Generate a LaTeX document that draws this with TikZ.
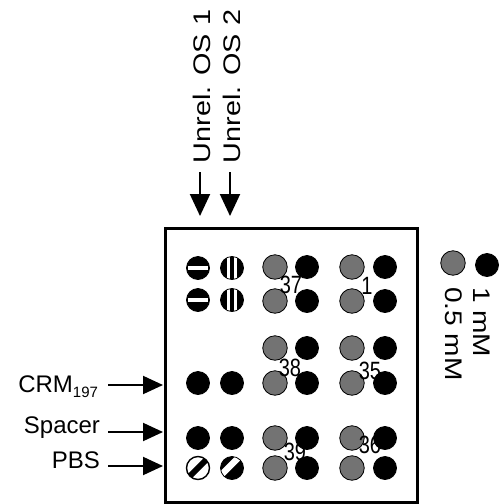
\documentclass[tikz,border=0pt]{standalone}
\usepackage{fontspec}
\setmainfont{Liberation Sans}
\usepackage{graphicx}
\usetikzlibrary{arrows.meta}
\begin{document}
\begin{tikzpicture}[x=1pt,y=-1pt,
  every node/.style={inner sep=0pt, outer sep=0pt},
  lbl/.style={font=\fontsize{24}{28}\selectfont},
  num/.style={font=\fontsize{20}{22}\selectfont},
  arrh/.style={line width=2pt, -{Triangle[length=20pt,width=18pt]}},
  arrv/.style={line width=2pt, -{Triangle[length=22pt,width=20pt]}},
  dotbase/.style={circle, minimum size=23pt, draw=black, line width=0.8pt},
  blk/.style={dotbase, fill=black},
  hat/.style={dotbase, minimum size=24.5pt, fill=black!55},
  hb/.style={dotbase, fill=black, path picture={
      \begin{scope}[shift={(path picture bounding box.center)}]
        \fill[white] (-10pt,-1.8pt) rectangle (10pt,1.8pt);
      \end{scope}}},
  vb/.style={dotbase, fill=black, path picture={
      \begin{scope}[shift={(path picture bounding box.center)}]
        \fill[white] (-5pt,-12pt) rectangle (-1.8pt,12pt);
        \fill[white] (1.8pt,-12pt) rectangle (5pt,12pt);
      \end{scope}}},
  slw/.style={dotbase, fill=white, line width=1.4pt, path picture={
      \begin{scope}[shift={(path picture bounding box.center)}]
        \fill[black] (7.78pt,12.02pt) -- (12.02pt,7.78pt) -- (-7.78pt,-12.02pt) -- (-12.02pt,-7.78pt) -- cycle;
      \end{scope}}},
  slb/.style={dotbase, fill=black, path picture={
      \begin{scope}[shift={(path picture bounding box.center)}]
        \fill[white] (5.66pt,14.14pt) -- (10.25pt,9.55pt) -- (-9.55pt,-10.25pt) -- (-14.14pt,-5.66pt) -- cycle;
      \end{scope}}},
]
\useasboundingbox (0,0) rectangle (500,504);

% frame
\draw[line width=3pt] (165,228) rectangle (417,502);

% top labels and arrows
\node[lbl, rotate=90, anchor=base west] (u1) at (210,163) {\scalebox{1.2}[1]{Unrel. OS 1}};
\node[lbl, rotate=90, anchor=base west] (u2) at (240,163) {\scalebox{1.2}[1]{Unrel. OS 2}};
\coordinate (s1) at (200,172);
\coordinate (t1) at (200,216);
\coordinate (s2) at (230,172);
\coordinate (t2) at (230,216);
\draw[arrv] (s1) -- (t1);
\draw[arrv] (s2) -- (t2);

% left labels and arrows
\node[lbl, anchor=base east] (crm) at (98,392) {CRM\raisebox{-5pt}{\fontsize{15}{15}\selectfont 197}};
\node[lbl, anchor=base east] (spc) at (100,433) {Spacer};
\node[lbl, anchor=base east] (pbs) at (100,468) {PBS};
\coordinate (tc) at (163,385);
\coordinate (ts) at (163,432);
\coordinate (tp) at (163,466);
\draw[arrh] ([xshift=10pt]crm.east |- tc) -- (tc);
\draw[arrh] ([xshift=8pt]spc.east |- ts) -- (ts);
\draw[arrh] ([xshift=8pt]pbs.east |- tp) -- (tp);

% column 1 and 2
\node[hb] (a1) at (198,268) {};
\node[hb] (a2) at (198,300) {};
\node[vb] (b1) at (232,268) {};
\node[vb] (b2) at (232,300) {};
\node[blk] (a4) at (198,383) {};
\node[blk] (b4) at (232,383) {};
\node[blk] (a5) at (198,438) {};
\node[blk] (b5) at (232,438) {};
\node[slw] (a6) at (198,468) {};
\node[slb] (b6) at (232,468) {};

% column 3 and 4
\foreach \r [count=\i] in {267,301,348,383,438,468} {
  \node[hat] (c\i) at (275,\r) {};
  \node[blk] (d\i) at (307,\r) {};
  \node[hat] (e\i) at (352,\r) {};
  \node[blk] (f\i) at (385,\r) {};
}

% numbers
\node[num] (n37) at (291,285) {\scalebox{1}[1.25]{37}};
\node[num] (n1) at (367,286) {\scalebox{1}[1.25]{1}};
\node[num] (n38) at (290,368) {\scalebox{1}[1.25]{38}};
\node[num] (n35) at (370,371) {\scalebox{1}[1.25]{35}};
\node[num] (n39) at (295,452) {\scalebox{1}[1.25]{39}};
\node[num] (n36) at (370,445) {\scalebox{1}[1.25]{36}};

% legend
\node[hat] (lh) at (453,263) {};
\node[blk] (lb) at (487,265) {};
\node[lbl, rotate=-90, anchor=base west] (l05) at (445,287) {\scalebox{1.17}[1]{0.5 mM}};
\node[lbl, rotate=-90, anchor=base west] (l1) at (473,287) {\scalebox{1.17}[1]{1 mM}};
\end{tikzpicture}
\end{document}
